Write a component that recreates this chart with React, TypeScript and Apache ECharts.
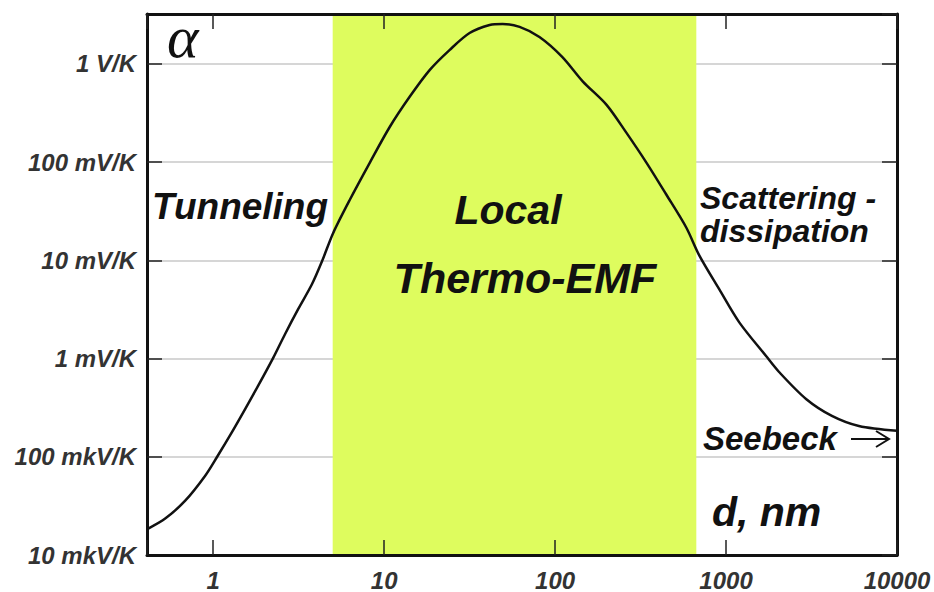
import React, { useEffect, useRef } from "react";
import * as echarts from "echarts";

// distance d, nm
const dNm = [
  0.417, 0.524, 0.686, 0.898, 1.055, 1.29, 1.54, 1.83, 2.24, 2.63, 3.14, 3.78,
  4.33, 5.02, 6.31, 8.25, 10.8, 14.1, 18.5, 24.2, 31.6, 41.4, 49.3, 62, 81, 110,
  145, 200, 261, 342, 447, 585, 697, 912, 1192, 1714, 2042, 2937, 4160, 5984,
  10000,
];
// thermo-EMF coefficient alpha, V/K
const alphaVK = [
  1.86e-5, 2.35e-5, 3.57e-5, 6.41e-5, 1.0e-4, 1.79e-4, 3.07e-4, 5.26e-4,
  1.01e-3, 1.77e-3, 3.18e-3, 5.7e-3, 9.77e-3, 0.0188, 0.0416, 0.0989, 0.229,
  0.462, 0.869, 1.39, 2.06, 2.49, 2.55, 2.38, 1.88, 1.18, 0.665, 0.383, 0.1995,
  0.0989, 0.0468, 0.0216, 0.01124, 5.08e-3, 2.35e-3, 1.06e-3, 7.3e-4, 3.88e-4,
  2.61e-4, 2.06e-4, 1.84e-4,
];

const xTickValues = [1, 10, 100, 1000, 10000];
const xTickLabels = ["1", "10", "100", "1000", "10000"];
const yTickValues = [1e-5, 1e-4, 1e-3, 1e-2, 1e-1, 1];
const yTickLabels = ["10 mkV/K", "100 mkV/K", "1 mV/K", "10 mV/K", "100 mV/K", "1 V/K"];

const xRange = [0.41, 10000];
const yRange = [1e-5, 3.22];
const localRange = [5, 670];

const fmt = (vals: number[], labels: string[]) => (v: number) => {
  const i = vals.findIndex((t) => Math.abs(Math.log10(t) - Math.log10(v)) < 1e-6);
  return i >= 0 ? labels[i] : "";
};

const FONT = "Liberation Sans";

export default function App() {
  const ref = useRef<HTMLDivElement>(null);
  useEffect(() => {
    if (!ref.current) return;
    const chart = echarts.init(ref.current, null, { renderer: "svg" });
    const labelStyle = {
      fontSize: 24,
      fontStyle: "italic",
      fontWeight: "bold",
      fontFamily: FONT,
      color: "#333",
    };
    const axisLine = { lineStyle: { color: "#111", width: 3 } };
    const tick = { inside: true, length: 15, lineStyle: { color: "#222", width: 1.5 } };
    const bigText = (text: string, x: number, y: number, size: number, align = "left") => ({
      type: "text",
      x,
      y,
      z: 100,
      style: {
        text,
        fontSize: size,
        fontWeight: "bold",
        fontStyle: "italic",
        fontFamily: FONT,
        fill: "#111",
        align,
        verticalAlign: "middle",
      },
    });
    chart.setOption({
      animation: false,
      backgroundColor: "#fff",
      grid: { left: 147, right: 37, top: 14, bottom: 37 },
      xAxis: [
        {
          type: "log",
          logBase: 10,
          min: xRange[0],
          max: xRange[1],
          position: "bottom",
          z: 5,
          axisLine,
          axisTick: tick,
          splitLine: { show: false },
          axisLabel: { ...labelStyle, margin: 13, formatter: fmt(xTickValues, xTickLabels) },
        },
        {
          type: "log",
          logBase: 10,
          min: xRange[0],
          max: xRange[1],
          position: "top",
          z: 5,
          axisLine,
          axisTick: tick,
          splitLine: { show: false },
          axisLabel: { show: false },
        },
      ],
      yAxis: [
        {
          type: "log",
          logBase: 10,
          min: yRange[0],
          max: yRange[1],
          position: "left",
          z: 0,
          axisLine,
          axisTick: tick,
          splitLine: { show: true, lineStyle: { color: "#c8c8c8", width: 1.5 } },
          axisLabel: { ...labelStyle, margin: 11, formatter: fmt(yTickValues, yTickLabels) },
        },
        {
          type: "log",
          logBase: 10,
          min: yRange[0],
          max: yRange[1],
          position: "right",
          z: 5,
          axisLine,
          axisTick: tick,
          splitLine: { show: false },
          axisLabel: { show: false },
        },
      ],
      series: [
        {
          type: "line",
          xAxisIndex: 0,
          yAxisIndex: 0,
          data: dNm.map((d, i) => [d, alphaVK[i]]),
          symbol: "none",
          smooth: 0.3,
          lineStyle: { color: "#111", width: 2.5 },
          z: 3,
          markArea: {
            silent: true,
            itemStyle: { color: "#DEFC5E" },
            data: [[{ xAxis: localRange[0] }, { xAxis: localRange[1] }]],
          },
        },
      ],
      graphic: [
        {
          type: "text",
          x: 167,
          y: 37,
          z: 100,
          style: {
            text: "α",
            fontSize: 60,
            fontStyle: "italic",
            fontFamily: "Liberation Serif",
            fill: "#111",
            align: "left",
            verticalAlign: "middle",
          },
        },
        bigText("Tunneling", 152, 206, 37),
        bigText("Local", 508, 210, 41, "center"),
        bigText("Thermo-EMF", 525, 278, 43, "center"),
        bigText("Scattering -", 700, 198, 32),
        bigText("dissipation", 700, 231, 32),
        bigText("Seebeck", 703, 438, 33),
        bigText("d, nm", 712, 512, 41),
        {
          type: "line",
          z: 100,
          shape: { x1: 851, y1: 439, x2: 888, y2: 439 },
          style: { stroke: "#111", lineWidth: 2 },
        },
        {
          type: "polyline",
          z: 100,
          shape: { points: [[876, 431], [889, 439], [876, 447]] },
          style: { stroke: "#111", lineWidth: 2, fill: "none" },
        },
      ],
    });
    return () => chart.dispose();
  }, []);
  return (
    <div
      ref={ref}
      style={{ position: "fixed", left: 0, top: 0, width: 934, height: 592 }}
    />
  );
}
